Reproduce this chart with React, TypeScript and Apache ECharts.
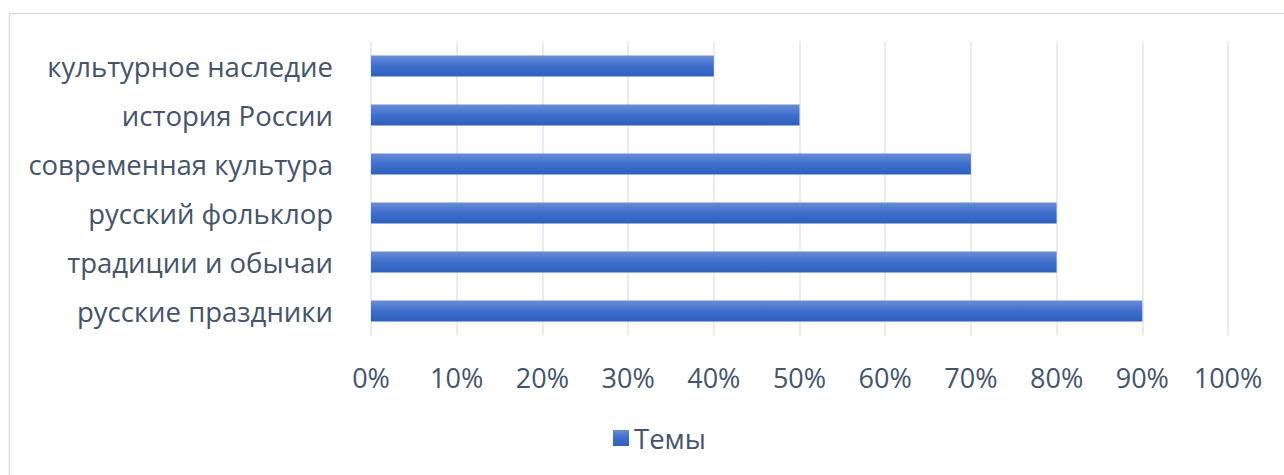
import React, { useEffect, useRef } from "react";
import * as echarts from "echarts";

const categories = [
  "русские праздники",
  "традиции и обычаи",
  "русский фольклор",
  "современная культура",
  "история России",
  "культурное наследие",
];
const values = [90, 80, 80, 70, 50, 40];
const seriesName = "Темы";

export default function App() {
  const ref = useRef<HTMLDivElement>(null);
  useEffect(() => {
    const chart = echarts.init(ref.current!, null, { renderer: "svg" });
    const grad = new echarts.graphic.LinearGradient(0, 0, 0, 1, [
      { offset: 0, color: "#6a8cd6" },
      { offset: 0.5, color: "#3f6fcc" },
      { offset: 1, color: "#2d5fbd" },
    ]);
    const textColor = "#44546a";
    const font = "Open Sans";
    chart.setOption({
      animation: false,
      backgroundColor: "#ffffff",
      graphic: [
        {
          type: "rect",
          shape: { x: 9.5, y: 13.5, width: 1300, height: 500 },
          style: { fill: "none", stroke: "#d9dde3", lineWidth: 1.5 },
          silent: true,
        },
      ],
      grid: { left: 371, right: 56, top: 41.5, bottom: 139.5, containLabel: false },
      xAxis: {
        type: "value",
        min: 0,
        max: 100,
        interval: 10,
        axisLine: { show: false },
        axisTick: { show: false },
        splitLine: { show: true, lineStyle: { color: "#e1e4ea", width: 1.5 } },
        axisLabel: {
          formatter: "{value}%",
          color: textColor,
          fontFamily: font,
          fontSize: 27,
          margin: 28,
        },
      },
      yAxis: {
        type: "category",
        data: categories,
        axisLine: { show: false },
        axisTick: { show: false },
        axisLabel: {
          color: textColor,
          fontFamily: font,
          fontSize: 27.5,
          margin: 38,
        },
      },
      legend: {
        show: true,
        bottom: 18,
        left: 608,
        itemWidth: 16,
        itemHeight: 16,
        icon: "rect",
        itemGap: 8,
        textStyle: { color: textColor, fontFamily: font, fontSize: 27.5 },
        data: [{ name: seriesName, itemStyle: { color: grad } }],
      },
      series: [
        {
          name: seriesName,
          type: "bar",
          data: values,
          barWidth: 21,
          itemStyle: { color: grad },
        },
      ],
    });
    return () => chart.dispose();
  }, []);
  return (
    <div
      ref={ref}
      style={{ position: "fixed", left: 0, top: 0, width: 1284, height: 475 }}
    />
  );
}
